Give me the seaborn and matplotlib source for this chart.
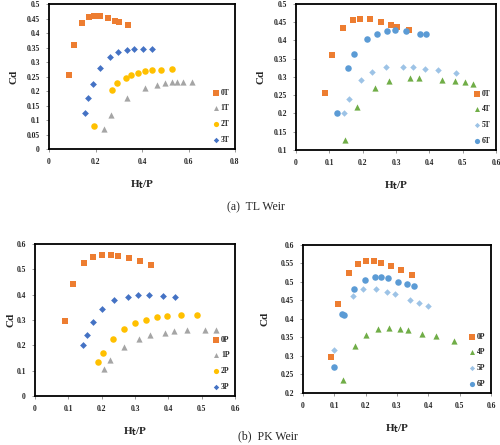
import matplotlib
matplotlib.use("Agg")
import matplotlib.pyplot as plt
import pandas as pd
import seaborn as sns
from matplotlib.ticker import FuncFormatter, MultipleLocator

sns.set_style("white")
plt.rcParams['font.family'] = ['Liberation Serif', 'DejaVu Serif']

# Data (Ht/P, Cd)
x_0T = [0.088, 0.108, 0.142, 0.172, 0.193, 0.221, 0.255, 0.285, 0.302, 0.339]
y_0T = [0.256, 0.360, 0.435, 0.455, 0.460, 0.458, 0.451, 0.443, 0.438, 0.429]
x_1T = [0.238, 0.268, 0.337, 0.411, 0.465, 0.497, 0.529, 0.549, 0.575, 0.615]
y_1T = [0.069, 0.117, 0.177, 0.210, 0.221, 0.228, 0.230, 0.230, 0.232, 0.232]
x_2T = [0.195, 0.272, 0.294, 0.331, 0.353, 0.384, 0.413, 0.444, 0.480, 0.530]
y_2T = [0.079, 0.205, 0.228, 0.246, 0.255, 0.262, 0.268, 0.271, 0.274, 0.276]
x_3T = [0.155, 0.168, 0.191, 0.219, 0.261, 0.297, 0.335, 0.367, 0.406, 0.444]
y_3T = [0.125, 0.175, 0.226, 0.278, 0.316, 0.333, 0.340, 0.344, 0.346, 0.344]
x_4T = [0.147, 0.183, 0.238, 0.280, 0.343, 0.370, 0.439, 0.477, 0.507, 0.531]
y_4T = [0.127, 0.217, 0.271, 0.290, 0.297, 0.297, 0.292, 0.289, 0.287, 0.282]
x_5T = [0.144, 0.160, 0.196, 0.228, 0.271, 0.322, 0.352, 0.386, 0.425, 0.481]
y_5T = [0.200, 0.239, 0.291, 0.313, 0.326, 0.328, 0.326, 0.323, 0.319, 0.311]
x_6T = [0.124, 0.155, 0.174, 0.212, 0.242, 0.273, 0.296, 0.329, 0.373, 0.391]
y_6T = [0.200, 0.324, 0.363, 0.404, 0.419, 0.426, 0.428, 0.425, 0.419, 0.418]

x_0P = [0.089, 0.113, 0.147, 0.175, 0.202, 0.227, 0.249, 0.281, 0.314, 0.348]
y_0P = [0.297, 0.440, 0.525, 0.549, 0.557, 0.556, 0.551, 0.543, 0.531, 0.518]
x_1P = [0.206, 0.225, 0.266, 0.311, 0.345, 0.390, 0.418, 0.457, 0.509, 0.543]
y_1P = [0.106, 0.143, 0.193, 0.225, 0.241, 0.250, 0.256, 0.260, 0.260, 0.260]
x_2P = [0.190, 0.203, 0.233, 0.268, 0.301, 0.334, 0.365, 0.395, 0.438, 0.486]
y_2P = [0.135, 0.169, 0.226, 0.263, 0.288, 0.301, 0.311, 0.317, 0.320, 0.320]
x_3P = [0.145, 0.155, 0.173, 0.201, 0.236, 0.279, 0.308, 0.343, 0.385, 0.420]
y_3P = [0.201, 0.239, 0.292, 0.342, 0.377, 0.392, 0.398, 0.398, 0.395, 0.392]
x_4P = [0.128, 0.165, 0.201, 0.240, 0.273, 0.311, 0.336, 0.379, 0.423, 0.483]
y_4P = [0.236, 0.326, 0.356, 0.373, 0.374, 0.373, 0.369, 0.360, 0.353, 0.340]
x_5P = [0.100, 0.158, 0.191, 0.232, 0.269, 0.295, 0.340, 0.369, 0.398]
y_5P = [0.317, 0.462, 0.481, 0.481, 0.473, 0.467, 0.451, 0.444, 0.435]
x_6P = [0.100, 0.126, 0.131, 0.164, 0.197, 0.229, 0.250, 0.271, 0.303, 0.333, 0.354]
y_6P = [0.270, 0.414, 0.410, 0.481, 0.505, 0.512, 0.512, 0.509, 0.500, 0.494, 0.488]

ORANGE, GRAY, GOLD, BLUE = "#ED7D31", "#A5A5A5", "#FFC000", "#4472C4"
GREEN, LBLUE, MBLUE = "#70AD47", "#9DC3E6", "#5B9BD5"


def make_df(series):
    rows = []
    for name, xs, ys in series:
        rows += [{"name": name, "x": a, "y": b} for a, b in zip(xs, ys)]
    return pd.DataFrame(rows)


def draw_panel(ax, series, palette, markers, sizes, xmax, xstep, ymin, ymax, ystep, ypad=6):
    df = make_df(series)
    order = [s[0] for s in series]
    for name in order:
        sns.scatterplot(data=df[df["name"] == name], x="x", y="y", color=palette[name],
                        marker=markers[name], s=sizes[name], linewidth=0, ax=ax,
                        label=name, legend=False)
    ax.set_xlim(0, xmax)
    ax.set_ylim(ymin, ymax)
    ax.xaxis.set_major_locator(MultipleLocator(xstep))
    ax.yaxis.set_major_locator(MultipleLocator(ystep))
    fmt = FuncFormatter(lambda v, p: "%g" % round(v, 3))
    ax.xaxis.set_major_formatter(fmt)
    ax.yaxis.set_major_formatter(fmt)
    ax.tick_params(axis="both", labelsize=5.5, length=2.5, width=0.6, color="#888888",
                   direction="out", pad=4, bottom=True, left=True)
    for lab in ax.get_xticklabels() + ax.get_yticklabels():
        lab.set_fontweight("bold")
    for sp in ax.spines.values():
        sp.set_color("black")
        sp.set_linewidth(1.3)
    ax.set_xlabel("H$_\\mathbf{t}$/P", fontsize=8, fontweight="bold", labelpad=9)
    ax.set_ylabel("Cd", fontsize=8, fontweight="bold", labelpad=ypad)
    ax.legend(loc="lower right", frameon=False, labelspacing=1.0,
              handletextpad=0.0, handlelength=1.2, markerscale=0.8,
              prop={"weight": "bold", "size": 5.5}, borderaxespad=0.3)


fig = plt.figure(figsize=(5.0, 4.45), dpi=100)
ax1 = fig.add_axes([0.098, 0.665, 0.372, 0.326])
ax2 = fig.add_axes([0.592, 0.663, 0.400, 0.328])
ax3 = fig.add_axes([0.070, 0.110, 0.400, 0.342])
ax4 = fig.add_axes([0.606, 0.117, 0.376, 0.333])

mk = {"0": "s", "1": "^", "2": "o", "3": "D", "4": "^", "5": "D", "6": "o"}
sz = {"0": 22, "1": 20, "2": 22, "3": 12, "4": 20, "5": 11, "6": 22}

def cfg(suffix, names, colors):
    pal = {n + suffix: c for n, c in zip(names, colors)}
    mks = {n + suffix: mk[n] for n in names}
    szs = {n + suffix: sz[n] for n in names}
    return pal, mks, szs

pal, mks, szs = cfg("T", "0123", [ORANGE, GRAY, GOLD, BLUE])
draw_panel(ax1, [("0T", x_0T, y_0T), ("1T", x_1T, y_1T), ("2T", x_2T, y_2T), ("3T", x_3T, y_3T)],
           pal, mks, szs, 0.8, 0.2, 0, 0.5, 0.05)
pal, mks, szs = cfg("T", "0456", [ORANGE, GREEN, LBLUE, MBLUE])
draw_panel(ax2, [("0T", x_0T, y_0T), ("4T", x_4T, y_4T), ("5T", x_5T, y_5T), ("6T", x_6T, y_6T)],
           pal, mks, szs, 0.6, 0.1, 0.1, 0.5, 0.05)
pal, mks, szs = cfg("P", "0123", [ORANGE, GRAY, GOLD, BLUE])
draw_panel(ax3, [("0P", x_0P, y_0P), ("1P", x_1P, y_1P), ("2P", x_2P, y_2P), ("3P", x_3P, y_3P)],
           pal, mks, szs, 0.6, 0.1, 0, 0.6, 0.1, ypad=1)
pal, mks, szs = cfg("P", "0456", [ORANGE, GREEN, LBLUE, MBLUE])
draw_panel(ax4, [("0P", x_0P, y_0P), ("4P", x_4P, y_4P), ("5P", x_5P, y_5P), ("6P", x_6P, y_6P)],
           pal, mks, szs, 0.6, 0.1, 0.2, 0.6, 0.05, ypad=8)

fig.text(0.512, 1 - 207 / 445, "(a)  TL Weir", ha="center", va="center", fontsize=8.5)
fig.text(0.535, 1 - 436 / 445, "(b)  PK Weir", ha="center", va="center", fontsize=8.5)

fig.savefig("out.png", dpi=100)
